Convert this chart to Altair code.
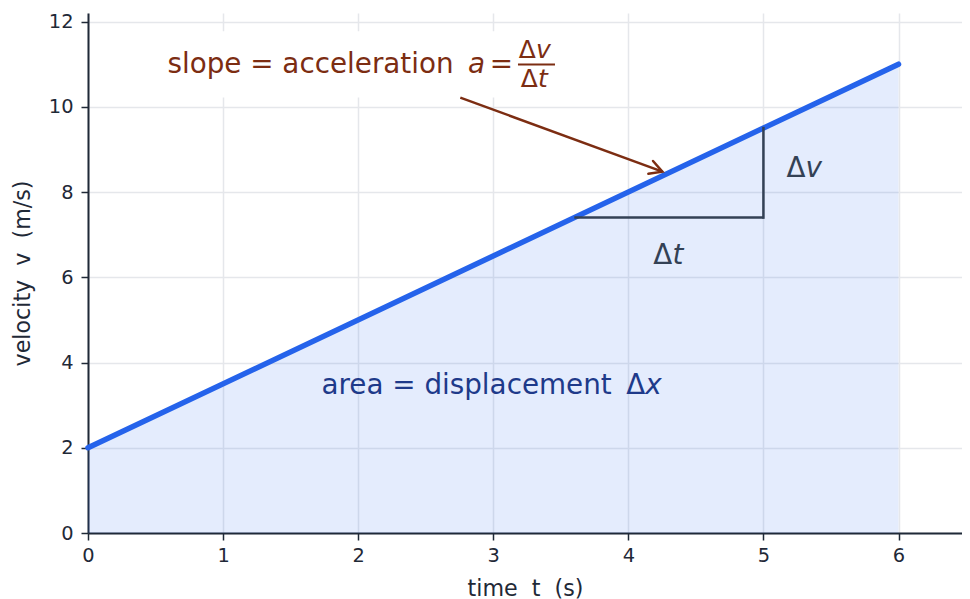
import altair as alt
import pandas as pd

# ---- data ----
t_vals = [0, 6]          # time (s)
v_vals = [2, 11]         # velocity (m/s)

x_ticks = [0, 1, 2, 3, 4, 5, 6]
y_ticks = [0, 2, 4, 6, 8, 10, 12]

# slope triangle
tri_t = [3.6, 5.0]
tri_v = [7.4, 9.5]

# arrow (start -> tip)
arrow_t = [2.756, 4.252]
arrow_v = [10.216, 8.478]

# white box behind the slope label
box_t = [0.53, 3.53]
box_v = [10.22, 11.77]

# fraction bar
frac_t = [3.183, 3.457]
frac_v = [10.99]

BROWN = "#7c2d12"
BLUE = "#2563eb"
NAVY = "#1e3a8a"
SLATE = "#334155"
AXIS = "#1f2937"
FONT = "DejaVu Sans"
NB = "\u00a0"

xs = alt.Scale(domain=[0, 6.47], nice=False, zero=False)
ys = alt.Scale(domain=[0, 12.2], nice=False, zero=False)

main = pd.DataFrame({"t": t_vals, "v": v_vals})

area = alt.Chart(main).mark_area(color=BLUE, opacity=0.12).encode(
    x=alt.X("t:Q", scale=xs, title=f"time{NB}{NB}t{NB}{NB}(s)",
            axis=alt.Axis(values=x_ticks, format="d", labelFlush=False)),
    y=alt.Y("v:Q", scale=ys, title=f"velocity{NB}{NB}v{NB}{NB}(m/s)",
            axis=alt.Axis(values=y_ticks, format="d", labelFlush=False)),
)

line = alt.Chart(main).mark_line(color=BLUE, strokeWidth=5.5, strokeCap="round").encode(
    x="t:Q", y="v:Q"
)

tri_h = alt.Chart(pd.DataFrame({"t": [tri_t[0]], "t2": [tri_t[1]], "v": [tri_v[0]]})).mark_rule(
    color=SLATE, strokeWidth=2.5).encode(x="t:Q", x2="t2:Q", y="v:Q")
tri_vline = alt.Chart(pd.DataFrame({"t": [tri_t[1]], "v": [tri_v[0]], "v2": [tri_v[1]]})).mark_rule(
    color=SLATE, strokeWidth=2.5, strokeCap="square").encode(x="t:Q", y="v:Q", y2="v2:Q")

box = alt.Chart(pd.DataFrame({"t": [box_t[0]], "t2": [box_t[1]], "v": [box_v[0]], "v2": [box_v[1]]})).mark_rect(
    color="white").encode(x="t:Q", x2="t2:Q", y="v:Q", y2="v2:Q")

arrow = alt.Chart(pd.DataFrame({"t": [arrow_t[0]], "t2": [arrow_t[1]], "v": [arrow_v[0]], "v2": [arrow_v[1]]})).mark_rule(
    color=BROWN, strokeWidth=2.5).encode(x="t:Q", x2="t2:Q", y="v:Q", y2="v2:Q")
head = alt.Chart(pd.DataFrame({"t": [arrow_t[1]], "v": [arrow_v[1]]})).mark_point(
    shape="M -1 -0.55 L 0 0 L -1 0.55", filled=False, size=620, angle=20,
    color=BROWN, strokeWidth=2.5, opacity=1, strokeCap="round").encode(x="t:Q", y="v:Q")

frac = alt.Chart(pd.DataFrame({"t": [frac_t[0]], "t2": [frac_t[1]], "v": frac_v})).mark_rule(
    color=BROWN, strokeWidth=2).encode(x="t:Q", x2="t2:Q", y="v:Q")


def txt(labels, xs_, ys_, color, size, italic=False, align="center"):
    df = pd.DataFrame({"t": xs_, "v": ys_, "label": labels})
    return alt.Chart(df).mark_text(
        font=FONT, fontSize=size, color=color, align=align, baseline="alphabetic",
        fontStyle="italic" if italic else "normal",
    ).encode(x="t:Q", y="v:Q", text="label:N")


BIG = 27.8
SMALL = 25

# slope label pieces
slope_plain = txt(["slope = acceleration"], [0.588], [10.80], BROWN, BIG, align="left")
slope_a = txt(["a"], [2.876], [10.80], BROWN, BIG, italic=True)
slope_eq = txt(["="], [3.06], [10.80], BROWN, BIG)
frac_delta = txt(["Δ", "Δ"], [3.316, 3.331], [11.155, 10.475], BROWN, SMALL, align="right")
frac_vars = txt(["v", "t"], [3.316, 3.331], [11.155, 10.475], BROWN, SMALL, italic=True, align="left")

# triangle labels
tri_delta = txt(["Δ", "Δ"], [4.326, 5.311], [6.32, 8.36], SLATE, BIG, align="right")
tri_vars = txt(["t", "v"], [4.326, 5.311], [6.32, 8.36], SLATE, BIG, italic=True, align="left")

# area label
area_plain = txt(["area = displacement"], [1.728], [3.26], NAVY, BIG, align="left")
area_delta = txt(["Δ"], [4.126], [3.26], NAVY, BIG, align="right")
area_x = txt(["x"], [4.126], [3.26], NAVY, BIG, italic=True, align="left")

chart = alt.layer(
    area, line, tri_h, tri_vline, box, arrow, head, frac,
    slope_plain, slope_a, slope_eq, frac_delta, frac_vars,
    tri_delta, tri_vars, area_plain, area_delta, area_x,
).properties(
    width=874, height=520,
    padding={"left": 3, "right": 0, "top": 3, "bottom": 0},
).configure_view(stroke=None).configure_axis(
    domainColor=AXIS, domainWidth=2, tickColor=AXIS, tickWidth=1.5, tickSize=7,
    labelFont=FONT, labelFontSize=19.4, labelColor=AXIS, labelPadding=8,
    titleFont=FONT, titleFontSize=22.2, titleFontWeight="normal", titleColor=AXIS,
    gridColor="#e5e7eb", gridWidth=1.5,
).configure_axisY(titlePadding=14).configure_axisX(titlePadding=13, labelPadding=6)

chart.save("out.html", embed_options={"renderer": "svg", "actions": False})
